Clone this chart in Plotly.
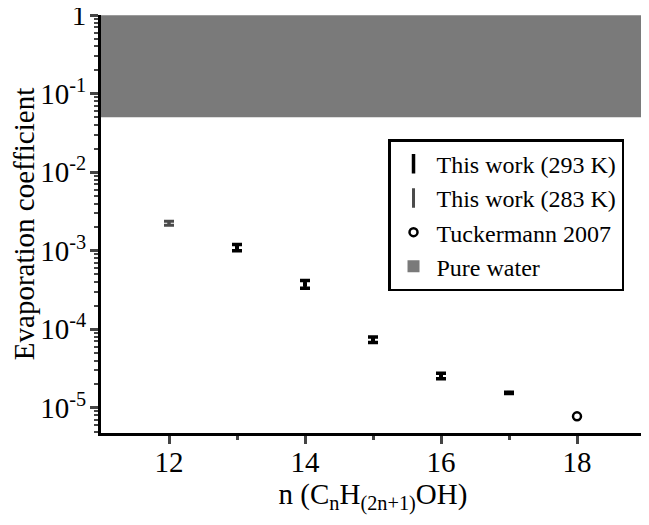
import plotly.graph_objects as go

# Data
n_293 = [13, 14, 15, 16, 17]
alpha_293 = [1.10e-3, 3.75e-4, 7.4e-5, 2.55e-5, 1.55e-5]
err_293 = [0.10e-3, 0.42e-4, 0.60e-5, 0.20e-5, 0.03e-5]

n_283 = [12]
alpha_283 = [2.25e-3]
err_283 = [0.13e-3]

n_tuck = [18]
alpha_tuck = [7.8e-6]

water_x = [15]
water_base = [0.05]
water_len = [0.95]

ytick_vals = [1, 1e-1, 1e-2, 1e-3, 1e-4, 1e-5]
ytick_text = ["1", "10<sup>-1</sup>", "10<sup>-2</sup>", "10<sup>-3</sup>",
              "10<sup>-4</sup>", "10<sup>-5</sup>"]
xtick_vals = [12, 14, 16, 18]

FONT = "Liberation Serif"
fig = go.Figure()

# Pure water band
fig.add_trace(go.Bar(
    x=water_x, y=water_len, base=water_base, width=8,
    marker=dict(color="#7a7a7a", line=dict(width=0)),
    name="Pure water", showlegend=False, hoverinfo="skip"))

fig.add_trace(go.Scatter(
    x=n_293, y=alpha_293, mode="markers",
    marker=dict(color="black", size=4, symbol="square"),
    error_y=dict(type="data", array=err_293, arrayminus=err_293,
                 color="black", thickness=3.5, width=5),
    name="This work (293 K)", showlegend=False))

fig.add_trace(go.Scatter(
    x=n_283, y=alpha_283, mode="markers",
    marker=dict(color="#4a4a4a", size=3, symbol="square"),
    error_y=dict(type="data", array=err_283, arrayminus=err_283,
                 color="#4a4a4a", thickness=3, width=5),
    name="This work (283 K)", showlegend=False))

fig.add_trace(go.Scatter(
    x=n_tuck, y=alpha_tuck, mode="markers",
    marker=dict(color="white", size=8, symbol="circle",
                line=dict(color="black", width=2.5)),
    name="Tuckermann 2007", showlegend=False))

# Legend-only entries
fig.add_trace(go.Scatter(
    x=[None], y=[None], mode="markers",
    marker=dict(symbol="line-ns-open", size=14, color="black",
                line=dict(color="black", width=3.5)),
    name="This work (293 K)"))
fig.add_trace(go.Scatter(
    x=[None], y=[None], mode="markers",
    marker=dict(symbol="line-ns-open", size=14, color="#4a4a4a",
                line=dict(color="#4a4a4a", width=3)),
    name="This work (283 K)"))
fig.add_trace(go.Scatter(
    x=[None], y=[None], mode="markers",
    marker=dict(color="white", size=8, symbol="circle",
                line=dict(color="black", width=2.5)),
    name="Tuckermann 2007"))
fig.add_trace(go.Bar(
    x=[None], y=[None],
    marker=dict(color="#7a7a7a", line=dict(width=0)),
    name="Pure water"))

fig.update_layout(
    width=641, height=517,
    margin=dict(l=93, r=4, t=7, b=92),
    paper_bgcolor="white", plot_bgcolor="white",
    font=dict(family=FONT, color="black", size=24),
    barmode="overlay",
    legend=dict(x=0.5276, y=0.703, xanchor="left", yanchor="top",
                bgcolor="white", bordercolor="black", borderwidth=2.5,
                font=dict(family=FONT, size=24, color="black"),
                itemwidth=36, tracegroupgap=0),
    xaxis=dict(range=[11, 19], tickvals=xtick_vals, ticks="outside",
               ticklen=8, tickwidth=3, showline=True, linewidth=3,
               linecolor="black", showgrid=False, zeroline=False,
               automargin=False, ticklabelstandoff=-7,
               tickfont=dict(family=FONT, size=29),
               minor=dict(tickvals=[13, 15, 17], ticks="outside", ticklen=4,
                          tickwidth=3, showgrid=False),
               title=dict(text="n (C<sub>n</sub>H<sub>(2n+1)</sub>OH)",
                          font=dict(family=FONT, size=29), standoff=3)),
    yaxis=dict(type="log", range=[-5.32, 0.002], tickvals=ytick_vals,
               ticktext=ytick_text, ticks="outside", ticklen=8, tickwidth=3,
               showline=True, linewidth=3, linecolor="black",
               showgrid=False, zeroline=False, automargin=False,
               ticklabeloverflow="allow", ticklabelstandoff=-2,
               tickfont=dict(family=FONT, size=29),
               minor=dict(ticks="outside", ticklen=4, tickwidth=2,
                          dtick="D1", showgrid=False),
               title=dict(text="Evaporation coefficient",
                          font=dict(family=FONT, size=29), standoff=32)),
)

fig.write_html("out.html")
